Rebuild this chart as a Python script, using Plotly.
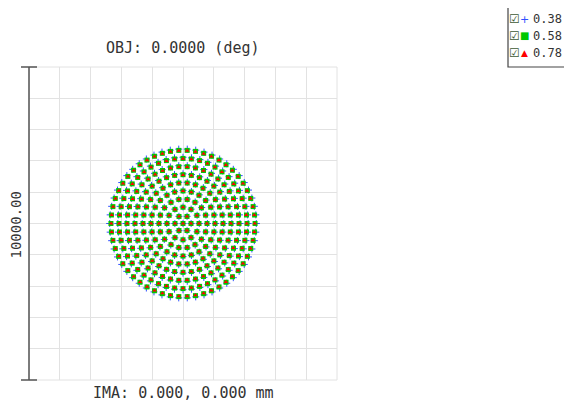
import numpy as np
import plotly.graph_objects as go

# ---- data ----
wavelengths = ["0.38", "0.58", "0.78"]
spot_radius_um = [2380, 2340, 2330]      # outer ring radius per wavelength
n_rings = 9                               # hexapolar rings
scale_bar_um = 10000.00
field_title = "OBJ: 0.0000 (deg)"
image_label = "IMA: 0.000, 0.000 mm"

colors = ["#3050ff", "#00c800", "#ff0000"]
symbols = ["cross-thin", "square", "triangle-up"]
sizes = [5, 5, 4]


def hexapolar(R, n):
    xs, ys = [0.0], [0.0]
    for k in range(1, n + 1):
        r = R * k / n
        for j in range(6 * k):
            t = 2 * np.pi * j / (6 * k)
            xs.append(r * np.cos(t))
            ys.append(r * np.sin(t))
    return xs, ys


fig = go.Figure()
for w, R, c, s, sz in zip(wavelengths, spot_radius_um, colors, symbols, sizes):
    x, y = hexapolar(R, n_rings)
    fig.add_trace(go.Scatter(
        x=x, y=y, mode="markers", name=w, showlegend=False,
        marker=dict(symbol=s, size=sz, color=c,
                    line=dict(width=1 if s == "cross-thin" else 0, color=c)),
    ))

half = scale_bar_um / 2
axis_common = dict(range=[-half, half], dtick=scale_bar_um / 10, showticklabels=False,
                   showgrid=True, gridcolor="#e2e2e2", gridwidth=1, zeroline=False,
                   showline=False, ticks="", fixedrange=True)
fig.update_xaxes(**axis_common)
fig.update_yaxes(**axis_common)

# page body has an 8px margin; offset everything accordingly
OFF = 8
W, H = 572 - OFF, 404 - OFF
L, T = 29 - OFF, 67 - OFF
pw, ph = 308, 313
Rm, B = W - L - pw, H - T - ph

font = dict(family="DejaVu Sans Mono", size=15, color="#333333")

shapes = [
    dict(type="rect", xref="paper", yref="paper", x0=0, x1=1, y0=0, y1=1,
         line=dict(color="#e2e2e2", width=1)),
    dict(type="line", xref="paper", yref="paper", x0=0, x1=0, y0=0, y1=1,
         line=dict(color="#555555", width=1.5)),
    dict(type="line", xref="paper", yref="paper", x0=-8 / pw, x1=8 / pw, y0=1, y1=1,
         line=dict(color="#555555", width=1.5)),
    dict(type="line", xref="paper", yref="paper", x0=-8 / pw, x1=8 / pw, y0=0, y1=0,
         line=dict(color="#555555", width=1.5)),
]

annotations = [
    dict(text=field_title, xref="paper", yref="paper", x=0.5, y=1 + 19 / ph,
         showarrow=False, font=font, xanchor="center", yanchor="middle"),
    dict(text=image_label, xref="paper", yref="paper", x=0.5, y=-13 / ph,
         showarrow=False, font=font, xanchor="center", yanchor="middle"),
    dict(text=f"{scale_bar_um:.2f}", xref="paper", yref="paper", x=-14 / pw, y=0.5 - 2 / ph,
         textangle=-90, showarrow=False,
         font=dict(family="DejaVu Sans Mono", size=14, color="#333333"),
         xanchor="center", yanchor="middle"),
]


def px(xp):
    return (xp - OFF - L) / pw


def py(yp):
    return 1 - (yp - OFF - T) / ph


shapes.append(dict(type="rect", xref="paper", yref="paper",
                   x0=px(508), x1=px(565), y0=py(67), y1=py(3),
                   line=dict(color="#444444", width=1.2), fillcolor="white"))
legend_glyphs = ["+", "■", "▲"]
legend_sizes = [11, 10, 9]
row_y = [19, 36, 53]
for w, c, g, gs, yy in zip(wavelengths, colors, legend_glyphs, legend_sizes, row_y):
    annotations.append(dict(text="☑", xref="paper", yref="paper", x=px(514), y=py(yy),
                            showarrow=False, xanchor="center", yanchor="middle",
                            font=dict(family="DejaVu Sans", size=12, color="#3d5a35")))
    annotations.append(dict(text=g, xref="paper", yref="paper", x=px(524), y=py(yy),
                            showarrow=False, xanchor="center", yanchor="middle",
                            font=dict(family="DejaVu Sans", size=gs, color=c)))
    annotations.append(dict(text=w, xref="paper", yref="paper", x=px(531), y=py(yy),
                            showarrow=False, xanchor="left", yanchor="middle",
                            font=dict(family="DejaVu Sans Mono", size=12, color="#333333")))

fig.update_layout(
    width=W, height=H, autosize=False,
    margin=dict(l=L, r=Rm, t=T, b=B, pad=0),
    paper_bgcolor="white", plot_bgcolor="white",
    shapes=shapes, annotations=annotations, showlegend=False,
)

fig.write_html("out.html", config={"displayModeBar": False},
               post_script="document.body.style.overflow='hidden';")
